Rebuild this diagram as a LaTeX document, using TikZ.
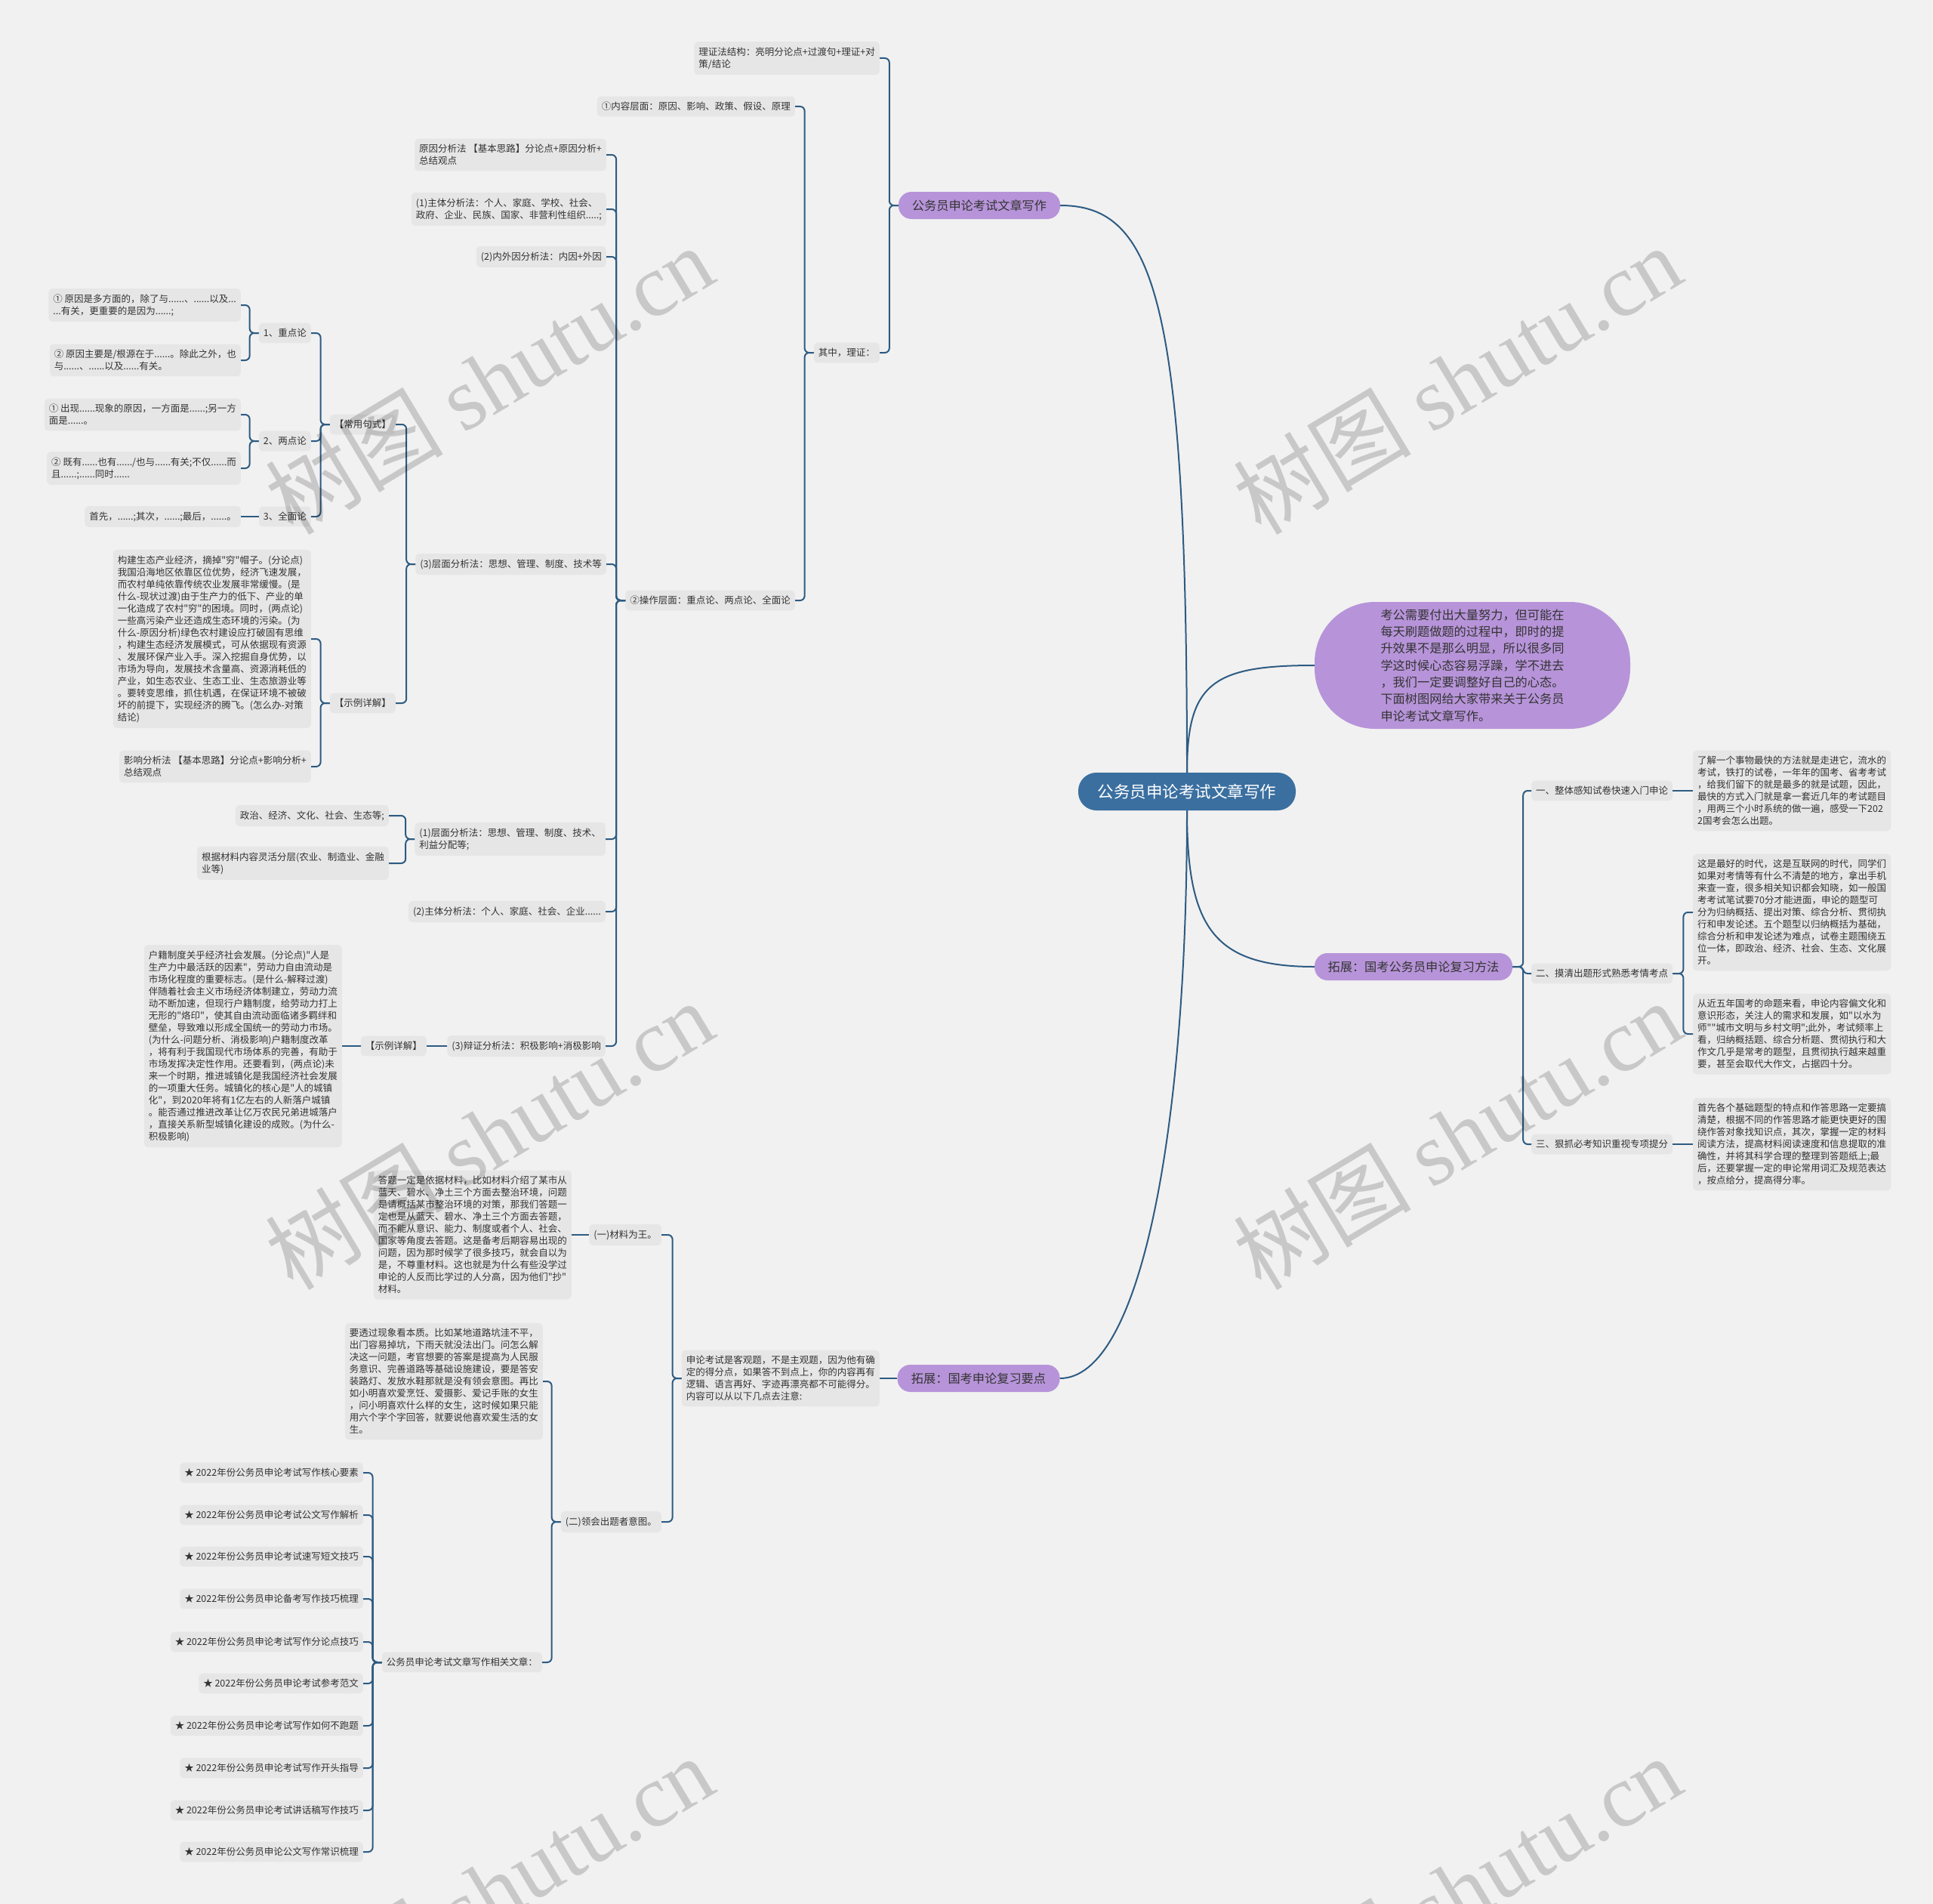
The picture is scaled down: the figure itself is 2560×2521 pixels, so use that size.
\documentclass[tikz,border=0pt]{standalone}
\usepackage{fontspec}
\setmainfont{Noto Sans CJK SC}[Ligatures=TeXOff]
\newfontfamily\wmserif{Liberation Serif}[Ligatures=TeXOff]
\definecolor{bgc}{HTML}{F1F1F1}
\definecolor{boxc}{HTML}{E6E6E6}
\definecolor{linec}{HTML}{2D5B82}
\definecolor{mainc}{HTML}{3A6FA0}
\definecolor{purp}{HTML}{B794D9}
\definecolor{txt}{HTML}{333333}
\tikzset{
 conn/.style={draw=linec, line width=2pt, rounded corners=6pt},
 leaf/.style={fill=boxc, rounded corners=5pt, inner xsep=6pt, inner ysep=7.5pt, align=left, text=txt, font=\fontsize{12.5}{16}\selectfont},
 lf/.style={leaf, anchor=east},
 rt/.style={leaf, anchor=west},
 pill/.style={fill=purp, rounded corners=17pt, minimum height=36pt, inner xsep=10pt, text=txt, font=\fontsize{16.2}{20}\selectfont},
 wm/.style={text=black, text opacity=0.17, font=\fontsize{118}{118}\selectfont, inner sep=0pt},
}
\newcommand\edgeL[2]{\draw[conn] (#1.west) -- ++(-12,0) |- (#2.east);}
\newcommand\edgeS[2]{\draw[conn] (#1.west) -- (#2.east);}
\newcommand\edgeR[2]{\draw[conn] (#1.east) -- ++(14,0) |- (#2.west);}
\newcommand\edgeRs[2]{\draw[conn] (#1.east) -- (#2.west);}
\begin{document}
\begin{tikzpicture}[x=1pt,y=-1pt]
\useasboundingbox (0,0) rectangle (2560,2521);
\fill[bgc] (0,0) rectangle (2560,2521);

% central and main branches
\node[fill=mainc, text=white, rounded corners=24pt, minimum width=288pt, minimum height=50pt, font=\fontsize{21.5}{26}\selectfont] (C) at (1572,1048) {公务员申论考试文章写作};
\node[fill=purp, rounded corners=80pt, minimum width=418pt, minimum height=168pt, align=left, text=txt, font=\fontsize{16.2}{22.3}\selectfont] (I) at (1950,881) {考公需要付出大量努力，但可能在\\每天刷题做题的过程中，即时的提\\升效果不是那么明显，所以很多同\\学这时候心态容易浮躁，学不进去\\，我们一定要调整好自己的心态。\\下面树图网给大家带来关于公务员\\申论考试文章写作。};
\node[pill, minimum width=214pt] (B1) at (1297,272) {公务员申论考试文章写作};
\node[pill, minimum width=262pt] (B3) at (1872,1280) {拓展：国考公务员申论复习方法};
\node[pill, minimum width=215pt] (B4) at (1296,1825) {拓展：国考申论复习要点};

% top branch
\node[lf] (lz) at (1165,77) {理证法结构：亮明分论点+过渡句+理证+对\\策/结论};
\node[lf] (qz) at (1165,467) {其中，理证：};
\node[lf] (nr) at (1053,141) {①内容层面：原因、影响、政策、假设、原理};
\node[lf] (cz) at (1053,795) {②操作层面：重点论、两点论、全面论};
\node[lf] (yy) at (803,205) {原因分析法 【基本思路】分论点+原因分析+\\总结观点};
\node[lf] (zta) at (803,277) {(1)主体分析法：个人、家庭、学校、社会、\\政府、企业、民族、国家、非营利性组织.....;};
\node[lf] (nw) at (803,340) {(2)内外因分析法：内因+外因};
\node[lf] (cmc) at (803,747) {(3)层面分析法：思想、管理、制度、技术等};
\node[lf] (cma) at (802,1111) {(1)层面分析法：思想、管理、制度、技术、\\利益分配等;};
\node[lf] (ztb) at (802,1207) {(2)主体分析法：个人、家庭、社会、企业......};
\node[lf] (bz) at (802,1385) {(3)辩证分析法：积极影响+消极影响};
\node[lf] (cy) at (524,562) {【常用句式】};
\node[lf] (sla) at (524,931) {【示例详解】};
\node[lf] (zd) at (412,441) {1、重点论};
\node[lf] (ld) at (412,584) {2、两点论};
\node[lf] (qm) at (412,684) {3、全面论};
\node[lf] (zda) at (319,404) {① 原因是多方面的，除了与......、......以及...\\...有关，更重要的是因为......;};
\node[lf] (zdb) at (319,477) {② 原因主要是/根源在于......。除此之外，也\\与......、......以及......有关。};
\node[lf] (lda) at (319,549) {① 出现......现象的原因，一方面是......;另一方\\面是......。};
\node[lf] (ldb) at (319,620) {② 既有......也有....../也与......有关;不仅......而\\且......;......同时......};
\node[lf] (qma) at (319,684) {首先，......;其次，......;最后，......。};
\node[lf] (ega) at (412,846) {构建生态产业经济，摘掉"穷"帽子。(分论点)\\我国沿海地区依靠区位优势，经济飞速发展，\\而农村单纯依靠传统农业发展非常缓慢。(是\\什么-现状过渡)由于生产力的低下、产业的单\\一化造成了农村"穷"的困境。同时，(两点论)\\一些高污染产业还造成生态环境的污染。(为\\什么-原因分析)绿色农村建设应打破固有思维\\，构建生态经济发展模式，可从依据现有资源\\、发展环保产业入手。深入挖掘自身优势，以\\市场为导向，发展技术含量高、资源消耗低的\\产业，如生态农业、生态工业、生态旅游业等\\。要转变思维，抓住机遇，在保证环境不被破\\坏的前提下，实现经济的腾飞。(怎么办-对策\\结论)};
\node[lf] (yx) at (412,1015) {影响分析法 【基本思路】分论点+影响分析+\\总结观点};
\node[lf] (zz) at (515,1080) {政治、经济、文化、社会、生态等;};
\node[lf] (gj) at (515,1143) {根据材料内容灵活分层(农业、制造业、金融\\业等)};
\node[lf] (slb) at (565,1385) {【示例详解】};
\node[lf] (egb) at (453,1385) {户籍制度关乎经济社会发展。(分论点)"人是\\生产力中最活跃的因素"，劳动力自由流动是\\市场化程度的重要标志。(是什么-解释过渡)\\伴随着社会主义市场经济体制建立，劳动力流\\动不断加速，但现行户籍制度，给劳动力打上\\无形的"烙印"，使其自由流动面临诸多羁绊和\\壁垒，导致难以形成全国统一的劳动力市场。\\(为什么-问题分析、消极影响)户籍制度改革\\，将有利于我国现代市场体系的完善，有助于\\市场发挥决定性作用。还要看到，(两点论)未\\来一个时期，推进城镇化是我国经济社会发展\\的一项重大任务。城镇化的核心是"人的城镇\\化"，到2020年将有1亿左右的人新落户城镇\\。能否通过推进改革让亿万农民兄弟进城落户\\，直接关系新型城镇化建设的成败。(为什么-\\积极影响)};

% bottom branch
\node[lf] (sl) at (1165,1825) {申论考试是客观题，不是主观题，因为他有确\\定的得分点，如果答不到点上，你的内容再有\\逻辑、语言再好、字迹再漂亮都不可能得分。\\内容可以从以下几点去注意:};
\node[lf] (ya) at (876,1635) {(一)材料为王。};
\node[lf] (yb) at (876,2015) {(二)领会出题者意图。};
\node[lf] (yat) at (757,1635) {答题一定是依据材料，比如材料介绍了某市从\\蓝天、碧水、净土三个方面去整治环境，问题\\是请概括某市整治环境的对策，那我们答题一\\定也是从蓝天、碧水、净土三个方面去答题，\\而不能从意识、能力、制度或者个人、社会、\\国家等角度去答题。这是备考后期容易出现的\\问题，因为那时候学了很多技巧，就会自以为\\是，不尊重材料。这也就是为什么有些没学过\\申论的人反而比学过的人分高，因为他们"抄"\\材料。};
\node[lf] (ybt) at (719,1829) {要透过现象看本质。比如某地道路坑洼不平，\\出门容易掉坑，下雨天就没法出门。问怎么解\\决这一问题，考官想要的答案是提高为人民服\\务意识、完善道路等基础设施建设，要是答安\\装路灯、发放水鞋那就是没有领会意图。再比\\如小明喜欢爱烹饪、爱摄影、爱记手账的女生\\，问小明喜欢什么样的女生，这时候如果只能\\用六个字个字回答，就要说他喜欢爱生活的女\\生。};
\node[lf] (xg) at (718,2201) {公务员申论考试文章写作相关文章：};
\foreach \yy/\tt [count=\i] in {1950/核心要素, 2006/公文写作解析, 2061/速写短文技巧, 2117/X, 2174/写作分论点技巧, 2229/参考范文, 2285/写作如何不跑题, 2341/写作开头指导, 2397/讲话稿写作技巧, 2452/Y}{
  \ifnum\i=4
    \node[lf] (a\i) at (481,\yy) {★ 2022年份公务员申论备考写作技巧梳理};
  \else\ifnum\i=10
    \node[lf] (a\i) at (481,\yy) {★ 2022年份公务员申论公文写作常识梳理};
  \else\ifnum\i=1
    \node[lf] (a\i) at (481,\yy) {★ 2022年份公务员申论考试写作\tt};
  \else
    \node[lf] (a\i) at (481,\yy) {★ 2022年份公务员申论考试\tt};
  \fi\fi\fi
  \edgeL{xg}{a\i}
}

% right branch
\node[rt] (ma) at (2028,1047) {一、整体感知试卷快速入门申论};
\node[rt] (mb) at (2028,1289) {二、摸清出题形式熟悉考情考点};
\node[rt] (mc) at (2028,1515) {三、狠抓必考知识重视专项提分};
\node[rt] (mat) at (2242,1047) {了解一个事物最快的方法就是走进它，流水的\\考试，铁打的试卷，一年年的国考、省考考试\\，给我们留下的就是最多的就是试题，因此，\\最快的方式入门就是拿一套近几年的考试题目\\，用两三个小时系统的做一遍，感受一下202\\2国考会怎么出题。};
\node[rt] (mba) at (2242,1208) {这是最好的时代，这是互联网的时代，同学们\\如果对考情等有什么不清楚的地方，拿出手机\\来查一查，很多相关知识都会知晓，如一般国\\考考试笔试要70分才能进面，申论的题型可\\分为归纳概括、提出对策、综合分析、贯彻执\\行和申发论述。五个题型以归纳概括为基础，\\综合分析和申发论述为难点，试卷主题围绕五\\位一体，即政治、经济、社会、生态、文化展\\开。};
\node[rt] (mbb) at (2242,1369) {从近五年国考的命题来看，申论内容偏文化和\\意识形态，关注人的需求和发展，如"以水为\\师""城市文明与乡村文明";此外，考试频率上\\看，归纳概括题、综合分析题、贯彻执行和大\\作文几乎是常考的题型，且贯彻执行越来越重\\要，甚至会取代大作文，占据四十分。};
\node[rt] (mct) at (2242,1515) {首先各个基础题型的特点和作答思路一定要搞\\清楚，根据不同的作答思路才能更快更好的围\\绕作答对象找知识点，其次，掌握一定的材料\\阅读方法，提高材料阅读速度和信息提取的准\\确性，并将其科学合理的整理到答题纸上;最\\后，还要掌握一定的申论常用词汇及规范表达\\，按点给分，提高得分率。};

% central connectors
\draw[conn] (C.north) .. controls (1572,400) and (1530,272) .. (B1.east);
\draw[conn] (C.north) .. controls (1572,905) and (1605,881) .. (I.west);
\draw[conn] (C.south) .. controls (1572,1228) and (1607,1280) .. (B3.west);
\draw[conn] (C.south) .. controls (1572,1500) and (1510,1825) .. (B4.east);

% tree connectors
\edgeL{B1}{lz} \edgeL{B1}{qz}
\edgeL{qz}{nr} \edgeL{qz}{cz}
\edgeL{cz}{yy} \edgeL{cz}{zta} \edgeL{cz}{nw} \edgeL{cz}{cmc} \edgeL{cz}{cma} \edgeL{cz}{ztb} \edgeL{cz}{bz}
\edgeL{cmc}{cy} \edgeL{cmc}{sla}
\edgeL{cy}{zd} \edgeL{cy}{ld} \edgeL{cy}{qm}
\edgeL{zd}{zda} \edgeL{zd}{zdb} \edgeL{ld}{lda} \edgeL{ld}{ldb} \edgeS{qm}{qma}
\edgeL{sla}{ega} \edgeL{sla}{yx}
\edgeL{cma}{zz} \edgeL{cma}{gj}
\edgeS{bz}{slb} \edgeS{slb}{egb}
\edgeS{B4}{sl} \edgeL{sl}{ya} \edgeL{sl}{yb} \edgeS{ya}{yat} \edgeL{yb}{ybt} \edgeL{yb}{xg}
\edgeR{B3}{ma} \edgeR{B3}{mb} \edgeR{B3}{mc}
\edgeRs{ma}{mat} \edgeR{mb}{mba} \edgeR{mb}{mbb} \edgeRs{mc}{mct}

% watermarks
\begin{scope}
\clip (0,0) rectangle (2560,2521);
\foreach \wx/\wy [count=\k] in {648/502, 1930/502, 648/1502, 1930/1502, 648/2502, 1930/2502}
  \node[wm, rotate=31] (wm\k) at (\wx,\wy) {树图 {\wmserif shutu.cn}};
\end{scope}
\end{tikzpicture}
\end{document}
